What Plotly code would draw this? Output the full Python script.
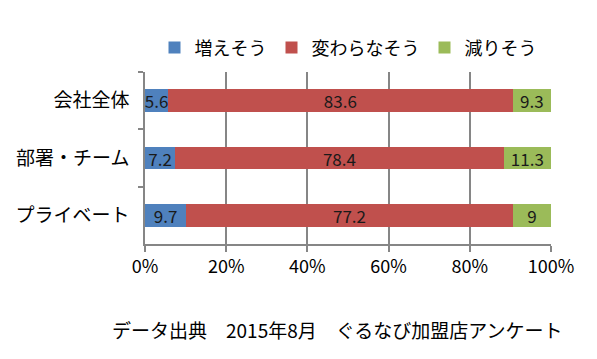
import plotly.graph_objects as go

categories = ["会社全体", "部署・チーム", "プライベート"]
series_names = ["増えそう", "変わらなそう", "減りそう"]
increase = [5.6, 7.2, 9.7]
same = [83.6, 78.4, 77.2]
decrease = [9.3, 11.3, 9.0]
colors = ["#4F81BD", "#C0504D", "#9BBB59"]
x_ticks = [0, 20, 40, 60, 80, 100]
x_tick_labels = ["0%", "20%", "40%", "60%", "80%", "100%"]
footer = "データ出典　2015年8月　ぐるなび加盟店アンケート"

FONT = "Noto Sans CJK JP"

fig = go.Figure()
for name, vals, col in zip(series_names, [increase, same, decrease], colors):
    fig.add_trace(go.Bar(
        y=categories, x=vals, name=name, orientation="h",
        marker=dict(color=col, line=dict(width=0)),
        text=[f"{v:g}" for v in vals], textposition="inside",
        insidetextanchor="middle", textangle=0,
        textfont=dict(family=FONT, size=17, color="#1a1a1a"),
    ))

fig.update_layout(
    barmode="stack", barnorm="percent", bargap=0.6,
    width=597, height=359,
    margin=dict(l=137, r=54, t=64, b=123),
    paper_bgcolor="white", plot_bgcolor="white",
    font=dict(family=FONT, color="#000"),
    uniformtext=dict(minsize=17, mode="show"),
    legend=dict(orientation="h", x=0.5, xanchor="center", y=1.14, yanchor="middle",
                font=dict(family=FONT, size=18), traceorder="normal"),
    xaxis=dict(range=[0, 100], tickvals=x_ticks, ticktext=x_tick_labels,
               showgrid=True, gridcolor="#868686", gridwidth=1.5,
               ticks="outside", ticklen=6, tickcolor="#868686", tickwidth=1.5,
               showline=True, linecolor="#868686", linewidth=1.5,
               zeroline=False, tickfont=dict(family=FONT, size=18),
               automargin=False, fixedrange=True),
    yaxis=dict(autorange="reversed", showline=True, linecolor="#868686", linewidth=1.5,
               ticks="outside", tickson="boundaries", ticklen=5, tickcolor="#868686",
               tickwidth=1.5, showgrid=False, ticklabelstandoff=10, automargin=False,
               tickfont=dict(family=FONT, size=19)),
    annotations=[dict(text=footer, xref="paper", yref="paper", x=(337 - 145) / 406,
                      y=-(329 - 244) / 172, xanchor="center", yanchor="middle",
                      showarrow=False, font=dict(family=FONT, size=19))],
)

fig.write_html("out.html")
